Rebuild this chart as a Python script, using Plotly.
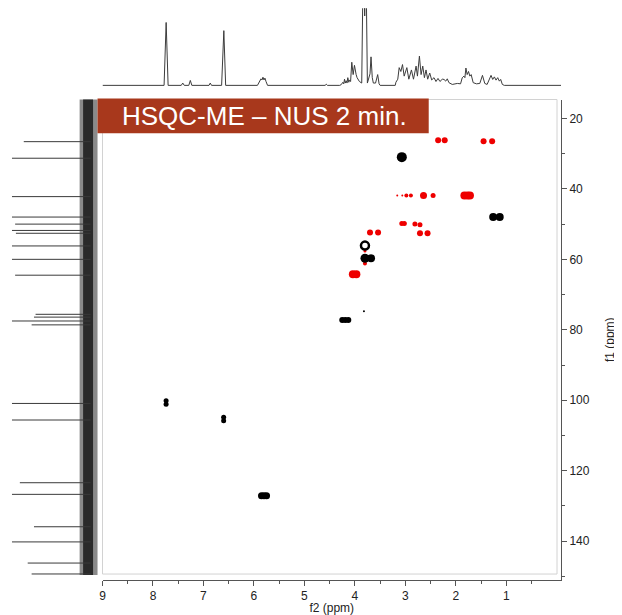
import plotly.graph_objects as go

# ---------------- data ----------------
# 1H projection (f2), vertices: ppm and relative intensity
h1_ppm = [9.0, 7.78, 7.739, 7.70, 7.44, 7.41, 7.38, 7.29, 7.26, 7.23, 6.89, 6.865, 6.84,
          6.64, 6.596, 6.56, 5.93, 5.88, 5.86, 5.84, 5.821, 5.80, 5.782, 5.76, 5.73,
          4.59, 4.567, 4.545, 4.30, 4.27, 4.238, 4.22, 4.205, 4.19, 4.172, 4.155, 4.140,
          4.12, 4.107, 4.085, 4.061, 4.034, 4.008, 3.975, 3.956, 3.91, 3.864, 3.835,
          3.805, 3.78, 3.752, 3.70, 3.680, 3.655, 3.634, 3.59, 3.548, 3.52, 3.50,
          3.20, 3.187, 3.15, 3.122, 3.089, 3.056, 3.023, 2.970, 2.931, 2.879, 2.839,
          2.787, 2.760, 2.721, 2.688, 2.655, 2.622, 2.590, 2.557, 2.517, 2.478, 2.432,
          2.393, 2.353, 2.314, 2.268, 2.234, 2.20, 2.169, 2.136, 2.07, 1.97, 1.906,
          1.873, 1.84, 1.82, 1.80, 1.775, 1.748, 1.722, 1.696, 1.656, 1.59, 1.525,
          1.472, 1.426, 1.38, 1.341, 1.302, 1.269, 1.236, 1.203, 1.170, 1.137, 1.111,
          1.078, 1.04, -0.1]
h1_int = [0, 0, 0.816, 0, 0, 0.03, 0, 0, 0.064, 0, 0, 0.03, 0,
          0, 0.71, 0, 0, 0.05, 0.085, 0.07, 0.106, 0.07, 0.094, 0.05, 0,
          0, 0.015, 0, 0, 0.01, 0.04, 0.02, 0.08, 0.03, 0.06, 0.03, 0.10,
          0.04, 0.07, 0.05, 0.30, 0.14, 0.26, 0.14, 0.10, 0.05, 0.03, 1.6,
          0.9, 1.6, 0.03, 0.15, 0.37, 0.10, 0.03, 0.03, 0.14, 0.02, 0,
          0, 0.04, 0.08, 0.23, 0.18, 0.27, 0.12, 0.23, 0.08, 0.20, 0.08,
          0.25, 0.12, 0.38, 0.14, 0.25, 0.10, 0.20, 0.08, 0.16, 0.07, 0.10,
          0.05, 0.09, 0.05, 0.08, 0.077, 0.055, 0.085, 0.035, 0.012, 0.025, 0.02,
          0.098, 0.12, 0.10, 0.225, 0.14, 0.18, 0.12, 0.14, 0.035, 0.02, 0.025,
          0.13, 0.025, 0.012, 0.077, 0.13, 0.077, 0.11, 0.068, 0.10, 0.055, 0.077,
          0.012, 0, 0]

# 13C projection (f1): peak positions (ppm) and relative heights
c13_ppm = [26.6, 31.3, 42.2, 48.0, 50.0, 51.8, 52.6, 56.2, 60.0, 64.5, 75.6, 76.4,
           77.5, 78.6, 100.9, 105.6, 123.4, 126.7, 135.9, 140.2, 146.2, 149.3]
c13_int = [0.85, 1.0, 1.0, 1.0, 0.96, 1.0, 0.95, 1.0, 1.0, 0.96, 0.70, 0.72,
           1.0, 0.75, 1.0, 1.0, 0.90, 1.0, 0.72, 1.0, 0.80, 0.75]

# HSQC cross peaks: positive phase (black)
pos_f2 = [3.07, 1.26, 1.13, 3.80, 3.68, 4.25, 4.19, 4.13, 7.74, 7.74, 6.60, 6.60,
          5.85, 5.80, 5.75, 3.82]
pos_f1 = [31.0, 48.0, 48.0, 59.7, 59.7, 77.2, 77.2, 77.2, 100.1, 101.1, 104.8, 105.8,
          127.1, 127.1, 127.1, 74.7]
pos_size = [10, 8, 8, 9, 8, 6, 6, 6, 5, 5, 5, 5, 7, 7, 7, 2]

# positive peak drawn as a ring
ring_f2 = [3.80]
ring_f1 = [56.1]

# negative phase (red)
neg_f2 = [2.35, 2.22, 1.45, 1.28, 3.16, 3.06, 2.98, 2.89, 2.64, 2.45, 1.83, 1.77, 1.72,
          3.07, 3.02, 2.81, 2.71, 3.70, 3.54, 2.71, 2.56, 3.80, 4.04, 3.97, 3.80]
neg_f1 = [26.2, 26.2, 26.5, 26.5, 41.9, 41.9, 41.9, 41.9, 41.9, 41.9, 41.9, 41.9, 41.9,
          49.8, 49.8, 50.0, 50.2, 52.4, 52.4, 52.6, 52.6, 61.2, 64.2, 64.2, 57.6]
neg_size = [6, 6, 6, 6, 2, 2, 4, 4, 7, 5, 8, 8, 8, 5, 5, 5, 5, 6, 6, 6, 6, 4, 8, 8, 3]

f2_ticks = [1, 2, 3, 4, 5, 6, 7, 8, 9]
f2_minor = [0.5, 1.5, 2.5, 3.5, 4.5, 5.5, 6.5, 7.5, 8.5]
f1_ticks = [20, 40, 60, 80, 100, 120, 140]
f1_minor = [30, 50, 70, 90, 110, 130, 150]

title_text = "HSQC-ME – NUS 2 min."

# ---------------- figure ----------------
OFF = 8                      # page body margin of the html page
W, H = 622 - OFF, 615 - OFF  # figure size
ML, MR, MT, MB = 0, 61, 0, 32
PW, PH = W - ML - MR, H - MT - MB   # plotting area in px


def px_x(px):
    """window x pixel -> paper fraction"""
    return (px - OFF - ML) / PW


def px_y(py):
    """window y pixel -> paper fraction"""
    return (PH - (py - OFF - MT)) / PH


fig = go.Figure()

# 13C projection as sticks
cx, cy = [], []
for p, h in zip(c13_ppm, c13_int):
    cx += [0, h, None]
    cy += [p, p, None]
fig.add_trace(go.Scatter(x=cx, y=cy, mode="lines", xaxis="x3", yaxis="y3",
                         line=dict(color="#3a3a3a", width=1), hoverinfo="skip",
                         showlegend=False))

# 1H projection
fig.add_trace(go.Scatter(x=h1_ppm, y=h1_int, mode="lines", xaxis="x2", yaxis="y2",
                         line=dict(color="#3c3c3c", width=1), hoverinfo="skip",
                         showlegend=False))

# cross peaks
fig.add_trace(go.Scatter(x=neg_f2, y=neg_f1, mode="markers",
                         marker=dict(color="#ee0000", size=neg_size, opacity=1,
                                     line=dict(width=0)),
                         showlegend=False))
fig.add_trace(go.Scatter(x=pos_f2, y=pos_f1, mode="markers",
                         marker=dict(color="#000000", size=pos_size, opacity=1,
                                     line=dict(width=0)),
                         showlegend=False))
fig.add_trace(go.Scatter(x=ring_f2, y=ring_f1, mode="markers",
                         marker=dict(symbol="circle-open", color="#000000", size=8,
                                     opacity=1, line=dict(width=2.5, color="#000000")),
                         showlegend=False))

axis_font = dict(family="Liberation Sans, Arial, sans-serif", size=12, color="#222")

x_dom = [px_x(100), 1.0]
y_dom = [0.0, px_y(100)]
x_rng = [9, -0.084]
y_rng = [151.01, 14.64]

fig.update_layout(
    width=W, height=H,
    margin=dict(l=ML, r=MR, t=MT, b=MB, pad=0),
    paper_bgcolor="white", plot_bgcolor="white",
    showlegend=False,
    xaxis=dict(domain=x_dom, range=x_rng, autorange=False,
               showline=True, linecolor="#555", linewidth=1,
               ticks="outside", ticklen=5, tickcolor="#555",
               tickmode="array", tickvals=f2_ticks, ticktext=[str(v) for v in f2_ticks],
               minor=dict(tickmode="array", tickvals=f2_minor, ticks="outside",
                          ticklen=3, tickcolor="#555"),
               showgrid=False, zeroline=False, tickfont=axis_font,
               title=dict(text="f2 (ppm)", font=axis_font, standoff=3),
               anchor="y"),
    yaxis=dict(domain=y_dom, range=y_rng, autorange=False, side="right",
               showline=True, linecolor="#555", linewidth=1,
               ticks="outside", ticklen=5, tickcolor="#555",
               tickmode="array", tickvals=f1_ticks, ticktext=[str(v) for v in f1_ticks],
               minor=dict(tickmode="array", tickvals=f1_minor, ticks="outside",
                          ticklen=3, tickcolor="#555"),
               showgrid=False, zeroline=False, tickfont=axis_font,
               title=dict(text="f1 (ppm)", font=axis_font, standoff=16),
               anchor="x"),
    xaxis2=dict(domain=x_dom, range=x_rng, autorange=False, visible=False,
                anchor="y2"),
    yaxis2=dict(domain=[px_y(86.7), px_y(8.3)], range=[-0.012, 1], autorange=False,
                visible=False, anchor="x2"),
    xaxis3=dict(domain=[0, px_x(100)], range=[(88 - OFF) / 79, -12 / 79],
                autorange=False, visible=False, anchor="y3"),
    yaxis3=dict(domain=y_dom, range=y_rng, autorange=False, visible=False,
                anchor="x3"),
)

shapes = [
    # light frame of the 2D area
    dict(type="rect", xref="x domain", yref="y domain", x0=0, x1=457 / 461,
         y0=6 / 483, y1=1, line=dict(color="#d2d2d2", width=1), layer="below"),
    # noise band of the 13C projection
    dict(type="rect", xref="paper", yref="paper", x0=px_x(77), x1=px_x(95),
         y0=px_y(578), y1=px_y(100), fillcolor="#8a8a8a", line=dict(width=0),
         layer="below"),
    dict(type="rect", xref="paper", yref="paper", x0=px_x(80.5), x1=px_x(90.5),
         y0=px_y(578), y1=px_y(100), fillcolor="#2a2a2a", line=dict(width=0),
         layer="below"),
    # title box
    dict(type="rect", xref="paper", yref="paper", x0=px_x(95), x1=px_x(428),
         y0=px_y(134), y1=px_y(99), fillcolor="#a8381c", line=dict(width=0),
         layer="above"),
]
fig.update_layout(shapes=shapes)

fig.add_annotation(text=title_text, xref="paper", yref="paper",
                   x=px_x(263), y=px_y(117), xanchor="center", yanchor="middle",
                   showarrow=False,
                   font=dict(family="Liberation Sans, Arial, sans-serif", size=26,
                             color="white"))

fig.write_html("out.html")
